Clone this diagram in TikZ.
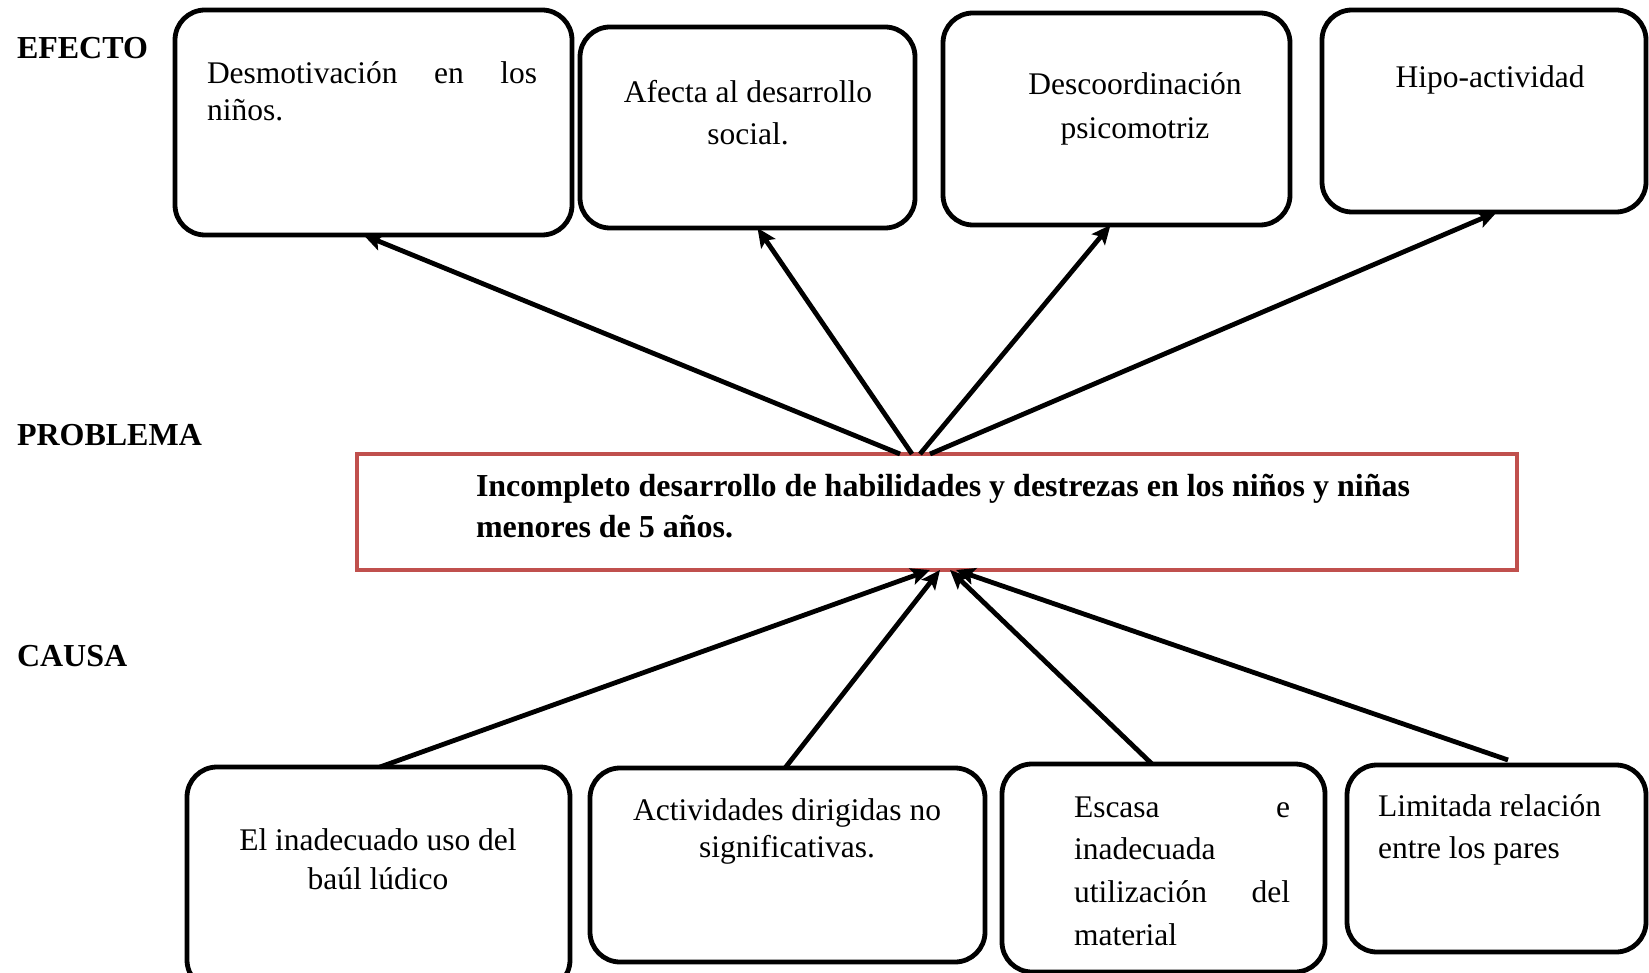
\documentclass[tikz,border=0pt]{standalone}
\usepackage{fontspec}
\setmainfont{Liberation Serif}
\usetikzlibrary{arrows.meta,calc}
\definecolor{probred}{HTML}{C0504D}
\begin{document}
\begin{tikzpicture}[x=1pt,y=-1pt,
  box/.style={draw=black, line width=4.8pt, rounded corners=30pt, inner sep=0pt, outer sep=0pt},
  prob/.style={draw=probred, line width=4.2pt, inner sep=0pt, outer sep=0pt},
  txt/.style={inner sep=0pt, outer sep=0pt, font=\fontsize{31.5}{40}\selectfont},
  btxt/.style={inner sep=0pt, outer sep=0pt, anchor=base west, font=\fontsize{32}{40}\selectfont\bfseries},
  lbl/.style={inner sep=0pt, outer sep=0pt, anchor=base west, font=\fontsize{32}{36}\selectfont\bfseries},
  arr/.style={line width=4.8pt, -{Stealth[length=19pt,width=17pt,inset=4pt]}}]
\useasboundingbox (0,0) rectangle (1649,973);
\fill[white] (0,0) rectangle (1649,973);

% labels
\node[lbl] (lefecto) at (17,59) {EFECTO};
\node[lbl] (lproblema) at (17,445) {PROBLEMA};
\node[lbl] (lcausa) at (17,666) {CAUSA};

% effect boxes
\node[box, minimum width=397pt, minimum height=225pt] (e1) at (373.5,122.5) {};
\node[box, minimum width=335pt, minimum height=201pt] (e2) at (747.5,127.5) {};
\node[box, minimum width=347pt, minimum height=212pt] (e3) at (1116.5,119) {};
\node[box, minimum width=324pt, minimum height=202pt] (e4) at (1484,111) {};

\node[txt, anchor=base west] (e1a) at (207,84) {\makebox[330pt][s]{Desmotivación en los}};
\node[txt, anchor=base west] (e1b) at (207,121) {niños.};
\node[txt, anchor=base] (e2a) at (748,103) {Afecta al desarrollo};
\node[txt, anchor=base] (e2b) at (748,145) {social.};
\node[txt, anchor=base] (e3a) at (1135,95) {Descoordinación};
\node[txt, anchor=base] (e3b) at (1135,139) {psicomotriz};
\node[txt, anchor=base] (e4a) at (1490,88) {Hipo-actividad};

% problem box
\node[prob, minimum width=1160pt, minimum height=116pt] (p) at (937,512) {};
\node[btxt] (pa) at (476,496) {Incompleto desarrollo de habilidades y destrezas en los niños y niñas};
\node[btxt] (pb) at (476,537) {menores de 5 años.};

% cause boxes
\node[box, minimum width=383pt, minimum height=223pt] (c1) at (378.5,878.5) {};
\node[box, minimum width=395pt, minimum height=194pt] (c2) at (787.5,865) {};
\node[box, minimum width=323pt, minimum height=208pt] (c3) at (1163.5,868) {};
\node[box, minimum width=299pt, minimum height=187pt] (c4) at (1496.5,858.5) {};

\node[txt, anchor=base] (c1a) at (378,850) {El inadecuado uso del};
\node[txt, anchor=base] (c1b) at (378,889) {baúl lúdico};
\node[txt, anchor=base] (c2a) at (787,820) {Actividades dirigidas no};
\node[txt, anchor=base] (c2b) at (787,857) {significativas.};
\node[txt, anchor=base west] (c3a) at (1074,817) {\makebox[216pt][s]{Escasa e}};
\node[txt, anchor=base west] (c3b) at (1074,859) {inadecuada};
\node[txt, anchor=base west] (c3c) at (1074,902) {\makebox[216pt][s]{utilización del}};
\node[txt, anchor=base west] (c3d) at (1074,945) {material};
\node[txt, anchor=base west] (c4a) at (1378,816) {Limitada relación};
\node[txt, anchor=base west] (c4b) at (1378,858) {entre los pares};

% effect arrows
\draw[arr] ([xshift=-37pt]p.north) -- ([xshift=-10pt]e1.south);
\draw[arr] ([xshift=-25pt]p.north) -- ([xshift=10pt]e2.south);
\draw[arr] ([xshift=-17pt]p.north) -- ([xshift=-6pt]e3.south);
\draw[arr] ([xshift=-7pt]p.north) -- ([xshift=13pt]e4.south);

% cause arrows
\draw[arr] ([xshift=1.5pt]c1.north) -- ([xshift=-7pt]p.south);
\draw[arr] ([xshift=-2.5pt]c2.north) -- ([xshift=3pt]p.south);
\draw[arr] ([xshift=-11.5pt]c3.north) -- ([xshift=13pt]p.south);
\draw[arr] ([xshift=11.5pt,yshift=5pt]c4.north) -- ([xshift=19pt]p.south);
\end{tikzpicture}
\end{document}
